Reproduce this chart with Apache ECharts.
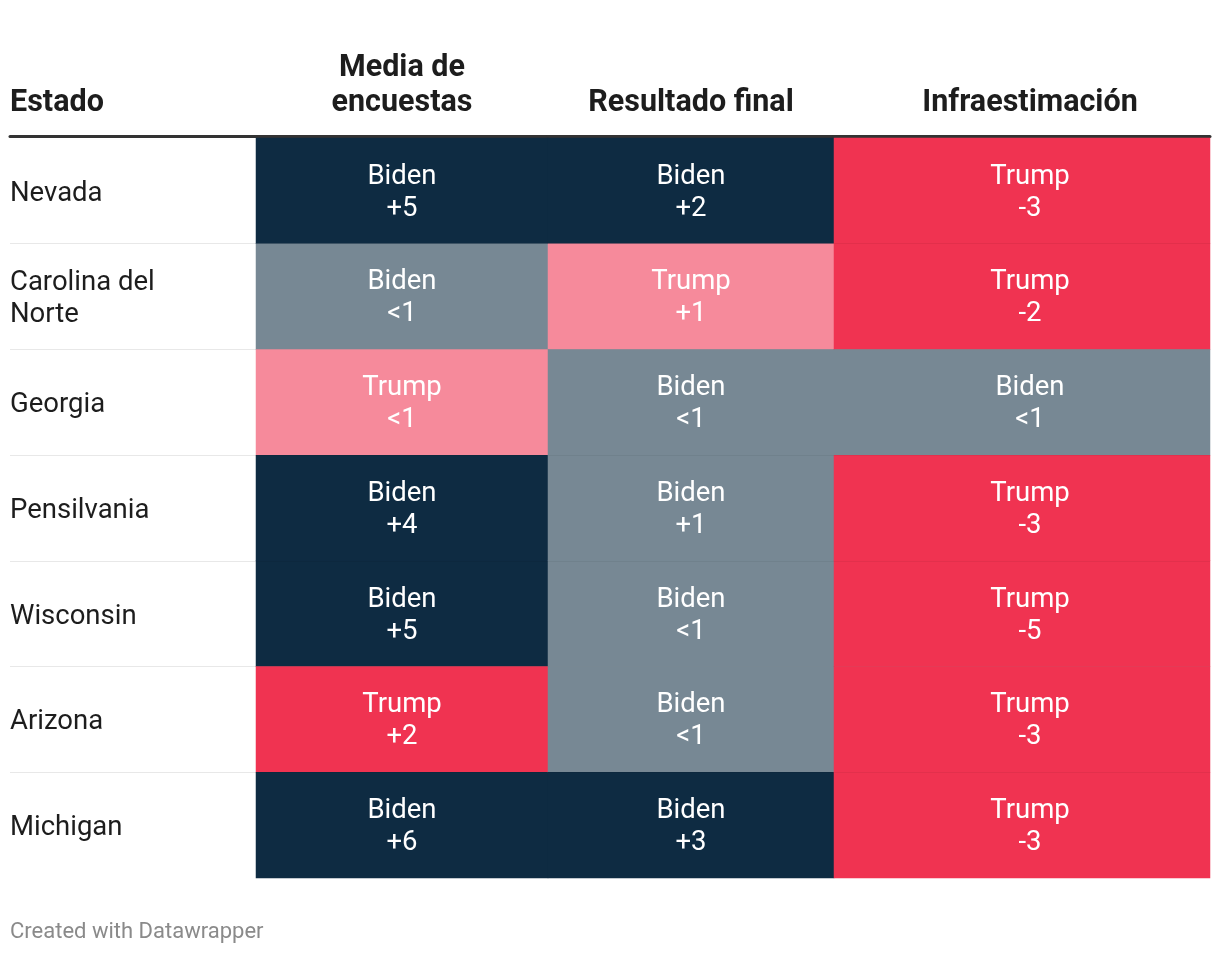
<!DOCTYPE html>
<html>
<head>
<meta charset="utf-8">
<script src="https://cdn.jsdelivr.net/npm/echarts@6/dist/echarts.min.js"></script>
<style>
  html, body { margin: 0; padding: 0; background: #ffffff; }
  #chart { width: 1220px; height: 954px; }
</style>
</head>
<body>
<div id="chart"></div>
<script>
// ---- data ----
const headers = ['Estado', 'Media de\nencuestas', 'Resultado final', 'Infraestimación'];
const states = ['Nevada', 'Carolina del\nNorte', 'Georgia', 'Pensilvania', 'Wisconsin', 'Arizona', 'Michigan'];
const pollWinner = ['Biden', 'Biden', 'Trump', 'Biden', 'Biden', 'Trump', 'Biden'];
const pollMargin = ['+5', '<1', '<1', '+4', '+5', '+2', '+6'];
const resultWinner = ['Biden', 'Trump', 'Biden', 'Biden', 'Biden', 'Biden', 'Biden'];
const resultMargin = ['+2', '+1', '<1', '+1', '<1', '<1', '+3'];
const underWinner = ['Trump', 'Trump', 'Biden', 'Trump', 'Trump', 'Trump', 'Trump'];
const underMargin = ['-3', '-2', '<1', '-3', '-5', '-3', '-3'];
const footer = 'Created with Datawrapper';

// ---- helpers ----
function signedValue(winner, margin) {
  const mag = margin === '<1' ? 0.5 : Math.abs(parseFloat(margin));
  return winner === 'Biden' ? mag : -mag;
}
const columns = [
  { winners: pollWinner, margins: pollMargin },
  { winners: resultWinner, margins: resultMargin },
  { winners: underWinner, margins: underMargin }
];

const FONT = 'Roboto';
const HFS = 30.5;       // header font size
const CFS = 27.5;       // cell / state font size
const gridTop = 138, gridBottom = 954 - 878;
const grids = [
  { left: 10, width: 246 },
  { left: 256, width: 292 },
  { left: 548, width: 286 },
  { left: 834, width: 376 }
].map(g => Object.assign({ top: gridTop, bottom: gridBottom }, g));
// extra left padding (content shift) for each column's text
const colShift = [0, 0, 0, 16];

function headerLabel(i) {
  const rich = {
    a: {
      fontFamily: FONT, fontWeight: 'bold', fontSize: HFS, color: '#1d1d1d', lineHeight: 35,
      padding: [0, 0, 0, colShift[i]]
    }
  };
  if (i === 0) { rich.a.width = 246; rich.a.align = 'left'; }
  return {
    color: '#1d1d1d', fontFamily: FONT, fontWeight: 'bold', fontSize: HFS,
    lineHeight: 35, margin: 15, interval: 0,
    formatter: v => v.split('\n').map(t => '{a|' + t + '}').join('\n'),
    rich: rich
  };
}

const xAxes = headers.map((h, i) => ({
  type: 'category', gridIndex: i, position: 'top', offset: 2,
  data: [h],
  axisLine: { show: true, lineStyle: { color: '#333333', width: 3 } },
  axisTick: { show: false },
  splitLine: { show: false },
  axisLabel: headerLabel(i)
}));

const yAxes = headers.map((h, i) => ({
  type: 'category', gridIndex: i, inverse: true, data: states,
  axisLine: { show: false }, axisTick: { show: false },
  z: i === 0 ? 0 : 5,
  splitLine: {
    show: true, showMinLine: false, showMaxLine: false,
    lineStyle: { color: i === 0 ? '#e8e8e8' : 'rgba(0,0,0,0.05)', width: 1 }
  },
  axisLabel: i === 0 ? {
    show: true, inside: true, margin: 0, align: 'left',
    color: '#1d1d1d', fontFamily: FONT, fontSize: CFS, lineHeight: 32,
    formatter: v => v.split('\n').map(t => '{s|' + t + '}').join('\n'),
    rich: {
      s: { fontFamily: FONT, fontSize: CFS, color: '#1d1d1d', lineHeight: 32, padding: [6, 0, 0, 0] }
    }
  } : { show: false }
}));

const series = columns.map((c, ci) => ({
  type: 'heatmap',
  xAxisIndex: ci + 1, yAxisIndex: ci + 1,
  data: states.map((s, r) => [0, r, signedValue(c.winners[r], c.margins[r])]),
  itemStyle: { borderWidth: 0 },
  label: {
    show: true, color: '#ffffff', fontFamily: FONT, fontSize: CFS, lineHeight: 32,
    offset: [colShift[ci + 1] / 2, 2],
    formatter: p => c.winners[p.data[1]] + '\n' + c.margins[p.data[1]]
  },
  emphasis: { disabled: true }
}));

const chart = echarts.init(document.getElementById('chart'), null, { renderer: 'canvas' });
chart.setOption({
  backgroundColor: '#ffffff',
  animation: false,
  title: {
    text: footer, left: 5, top: 916,
    textStyle: { color: '#8a8a8a', fontFamily: FONT, fontSize: 22, fontWeight: 'normal' }
  },
  grid: grids,
  xAxis: xAxes,
  yAxis: yAxes,
  visualMap: {
    show: false, type: 'piecewise', dimension: 2, seriesIndex: [0, 1, 2],
    pieces: [
      { gte: 2, color: '#0e2b42' },
      { gt: 0, lt: 2, color: '#778894' },
      { gt: -2, lt: 0, color: '#f68a9b' },
      { lte: -2, color: '#f03351' }
    ]
  },
  series: series
});
</script>
</body>
</html>
